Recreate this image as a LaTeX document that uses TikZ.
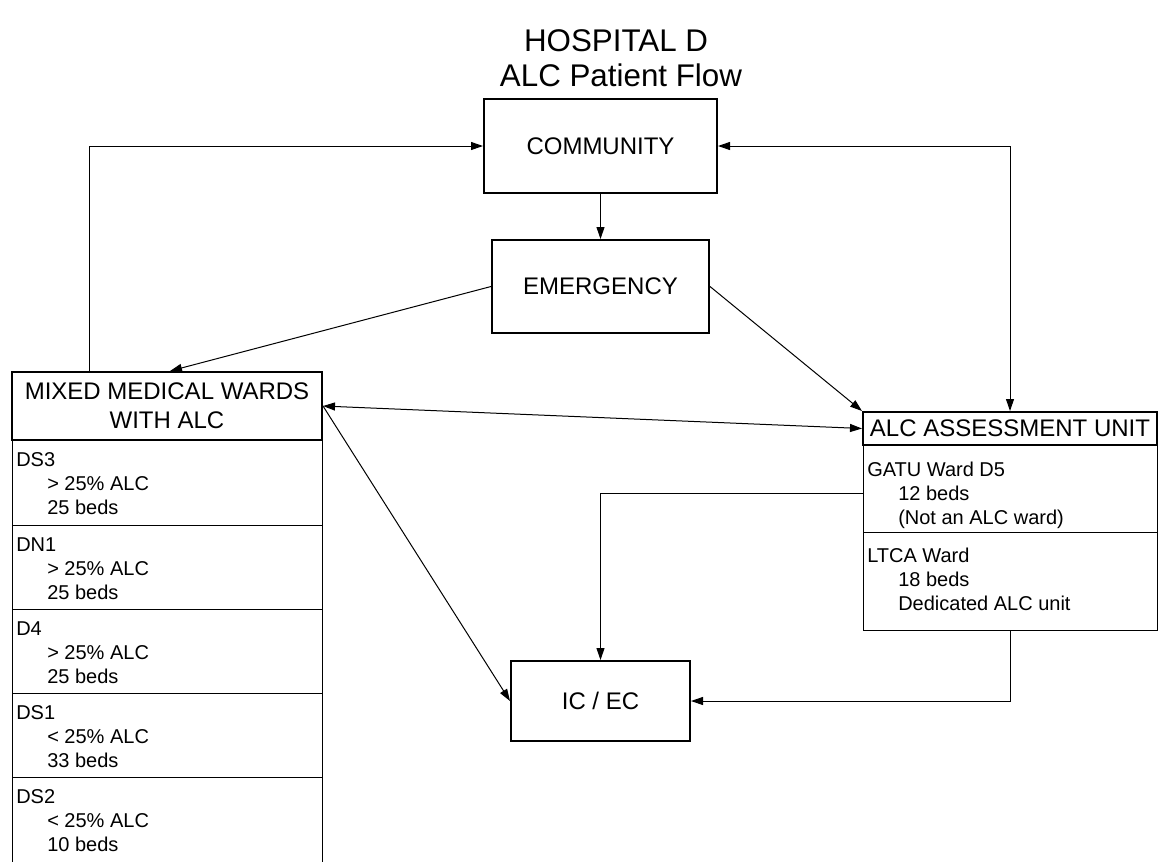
\documentclass[tikz,border=0pt]{standalone}
\usepackage{fontspec}
\setmainfont{Liberation Sans}
\usetikzlibrary{arrows.meta,calc}
\newcommand\rowindent{\hspace*{23.25pt}}
\begin{document}
\begin{tikzpicture}[x=0.75pt,y=-0.75pt,
  >={Triangle[length=9pt,width=6pt]},
  mainbox/.style={draw,line width=1.5pt,fill=white,inner sep=0pt,align=center,font=\fontsize{18}{21.75}\selectfont},
  rowbox/.style={draw,line width=0.75pt,anchor=north west,inner sep=0pt},
  rowtext/.style={anchor=north west,inner sep=0pt,align=left,font=\fontsize{15}{18}\selectfont},
  titletext/.style={anchor=base,inner sep=0pt,font=\fontsize{23.5}{27}\selectfont},
  conn/.style={line width=0.75pt}]
\useasboundingbox (0,0) rectangle (1160,861);
\clip (0,0) rectangle (1160,861);

% title
\node[titletext] (title1) at (616,51) {HOSPITAL D};
\node[titletext] (title2) at (621,86) {ALC Patient Flow};

% mixed medical wards rows
\node[rowbox,minimum width=232.5pt,minimum height=63.75pt] (ds3) at (12,440) {};
\node[rowbox,minimum width=232.5pt,minimum height=63pt] (dn1) at (12,525) {};
\node[rowbox,minimum width=232.5pt,minimum height=63pt] (d4) at (12,609) {};
\node[rowbox,minimum width=232.5pt,minimum height=63pt] (ds1) at (12,693) {};
\node[rowbox,minimum width=232.5pt,minimum height=67.5pt] (ds2) at (12,777) {};
\node[rowtext] (ds3t) at (16,452) {DS3\\\rowindent> 25\% ALC\\\rowindent 25 beds};
\node[rowtext] (dn1t) at (16,537) {DN1\\\rowindent> 25\% ALC\\\rowindent 25 beds};
\node[rowtext] (d4t) at (16,621) {D4\\\rowindent> 25\% ALC\\\rowindent 25 beds};
\node[rowtext] (ds1t) at (16,705) {DS1\\\rowindent< 25\% ALC\\\rowindent 33 beds};
\node[rowtext] (ds2t) at (16,789) {DS2\\\rowindent< 25\% ALC\\\rowindent 10 beds};

% ALC assessment rows
\node[rowbox,minimum width=220.5pt,minimum height=65.25pt] (gatu) at (863,445) {};
\node[rowbox,minimum width=220.5pt,minimum height=73.5pt] (ltca) at (863,532) {};
\node[rowtext] (gatut) at (867,462) {GATU Ward D5\\\rowindent 12 beds\\\rowindent (Not an ALC ward)};
\node[rowtext] (ltcat) at (867,548) {LTCA Ward\\\rowindent 18 beds\\\rowindent Dedicated ALC unit};

% main boxes
\node[mainbox,minimum width=174.75pt,minimum height=70.5pt] (community) at (600.5,146) {COMMUNITY};
\node[mainbox,minimum width=162.75pt,minimum height=69.75pt] (emergency) at (600.5,286.5) {EMERGENCY};
\node[mainbox,minimum width=232.5pt,minimum height=51pt] (mixed) at (167,406) {MIXED MEDICAL WARDS\\WITH ALC};
\node[mainbox,minimum width=220.5pt,minimum height=24.75pt] (alc) at (1010,428.5) {ALC ASSESSMENT UNIT};
\node[mainbox,minimum width=134.25pt,minimum height=60pt] (icec) at (600.5,701) {IC / EC};

% connectors
\draw[conn,->] (community.south) -- (emergency.north);
\draw[conn,->] ($(mixed.north west)+(78,0)$) |- (community.west);
\draw[conn,<->] (community.east) -| (alc.north);
\draw[conn,->] (emergency.west) -- ($(mixed.north)+(3,0)$);
\draw[conn,->] (emergency.east) -- (alc.north west);
\draw[conn,<->] (mixed.east) -- (alc.west);
\draw[conn,->] (mixed.east) -- (icec.west);
\draw[conn,->] ($(gatu.west)+(0,4.5)$) -| (icec.north);
\draw[conn,->] (ltca.south) |- (icec.east);
\end{tikzpicture}
\end{document}
